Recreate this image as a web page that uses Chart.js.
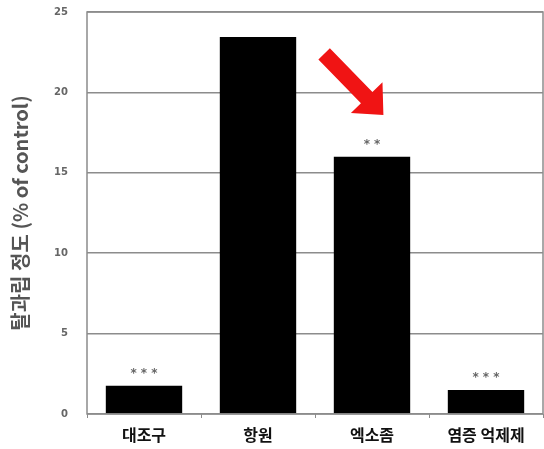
<!DOCTYPE html>
<html>
<head>
<meta charset="utf-8">
<script src="https://cdn.jsdelivr.net/npm/chart.js@4"></script>
<style>
  html, body { margin: 0; padding: 0; background: #fff; }
  #wrap { width: 544px; height: 449px; }
</style>
</head>
<body>
<div id="wrap"><canvas id="degranChart" width="544" height="449"></canvas></div>
<script>
// ===== Data =====
const categories = ['대조구', '항원', '엑소좀', '염증 억제제'];
const values     = [1.75, 23.45, 16.0, 1.5];
const marks      = ['* * *', '', '* *', '* * *'];
const yTicks     = [0, 5, 10, 15, 20, 25];

// arrow: tail / tip in data units (category index, value)
const arrowTail = [1.58, 22.4];
const arrowTip  = [2.1, 18.6];

const KR = '"Noto Sans CJK KR", "Noto Sans", sans-serif';

// ===== Plugins =====
const framePlugin = {
  id: 'frame',
  afterDraw(chart) {
    const { ctx, chartArea: a } = chart;
    ctx.save();
    ctx.strokeStyle = '#8c8c8c';
    ctx.lineWidth = 1.5;
    ctx.strokeRect(a.left, a.top, a.right - a.left, a.bottom - a.top);
    ctx.restore();
  }
};

const starsPlugin = {
  id: 'stars',
  afterDatasetsDraw(chart) {
    const { ctx } = chart;
    const meta = chart.getDatasetMeta(0);
    ctx.save();
    ctx.fillStyle = '#666';
    ctx.font = 'bold 12px "DejaVu Sans", sans-serif';
    ctx.textAlign = 'center';
    ctx.textBaseline = 'bottom';
    meta.data.forEach((bar, i) => {
      if (marks[i]) ctx.fillText(marks[i], bar.x, bar.y - 6);
    });
    ctx.restore();
  }
};

const arrowPlugin = {
  id: 'arrow',
  afterDraw(chart) {
    const { ctx, scales: { x, y } } = chart;
    const x0 = x.getPixelForValue(arrowTail[0]), y0 = y.getPixelForValue(arrowTail[1]);
    const x1 = x.getPixelForValue(arrowTip[0]),  y1 = y.getPixelForValue(arrowTip[1]);
    const dx = x1 - x0, dy = y1 - y0, len = Math.hypot(dx, dy);
    const ux = dx / len, uy = dy / len, px = -uy, py = ux;
    const sw = 8, hw = 22, hl = 24; // half shaft, half head, head length
    const bx = x1 - ux * hl, by = y1 - uy * hl;
    ctx.save();
    ctx.fillStyle = '#f01414';
    ctx.beginPath();
    ctx.moveTo(x0 + px * sw, y0 + py * sw);
    ctx.lineTo(bx + px * sw, by + py * sw);
    ctx.lineTo(bx + px * hw, by + py * hw);
    ctx.lineTo(x1, y1);
    ctx.lineTo(bx - px * hw, by - py * hw);
    ctx.lineTo(bx - px * sw, by - py * sw);
    ctx.lineTo(x0 - px * sw, y0 - py * sw);
    ctx.closePath();
    ctx.fill();
    ctx.restore();
  }
};

// ===== Chart =====
new Chart(document.getElementById('degranChart'), {
  type: 'bar',
  data: {
    labels: categories,
    datasets: [{ data: values, backgroundColor: '#000', borderWidth: 0, barPercentage: 0.67, categoryPercentage: 1 }]
  },
  options: {
    responsive: false, animation: false,
    layout: { padding: { top: 12, right: 1, left: 0, bottom: 0 } },
    plugins: { legend: { display: false }, tooltip: { enabled: false } },
    scales: {
      x: {
        grid: { display: true, drawOnChartArea: false, tickLength: 4, color: '#8c8c8c' },
        border: { display: false },
        ticks: { color: '#111', padding: 7, font: { family: KR, size: 16, weight: 'bold' } },
        afterFit(scale) { scale.height = 35; scale.paddingLeft = 0; scale.paddingRight = 0; }
      },
      y: {
        min: 0, max: 25,
        afterBuildTicks(scale) { scale.ticks = yTicks.map(v => ({ value: v })); },
        grid: { color: '#8c8c8c', lineWidth: 1.5, drawTicks: false },
        border: { display: false },
        ticks: { color: '#666', padding: 19, font: { family: '"DejaVu Sans", sans-serif', size: 10, weight: 'bold' } },
        title: {
          display: true, text: '탈과립 정도 (% of control)', color: '#555',
          padding: { top: 8, bottom: 0 },
          font: { family: KR, size: 20, weight: 'bold' }
        },
        afterFit(scale) { scale.width = 87; scale.paddingTop = 0; scale.paddingBottom = 0; }
      }
    }
  },
  plugins: [framePlugin, starsPlugin, arrowPlugin]
});
</script>
</body>
</html>
